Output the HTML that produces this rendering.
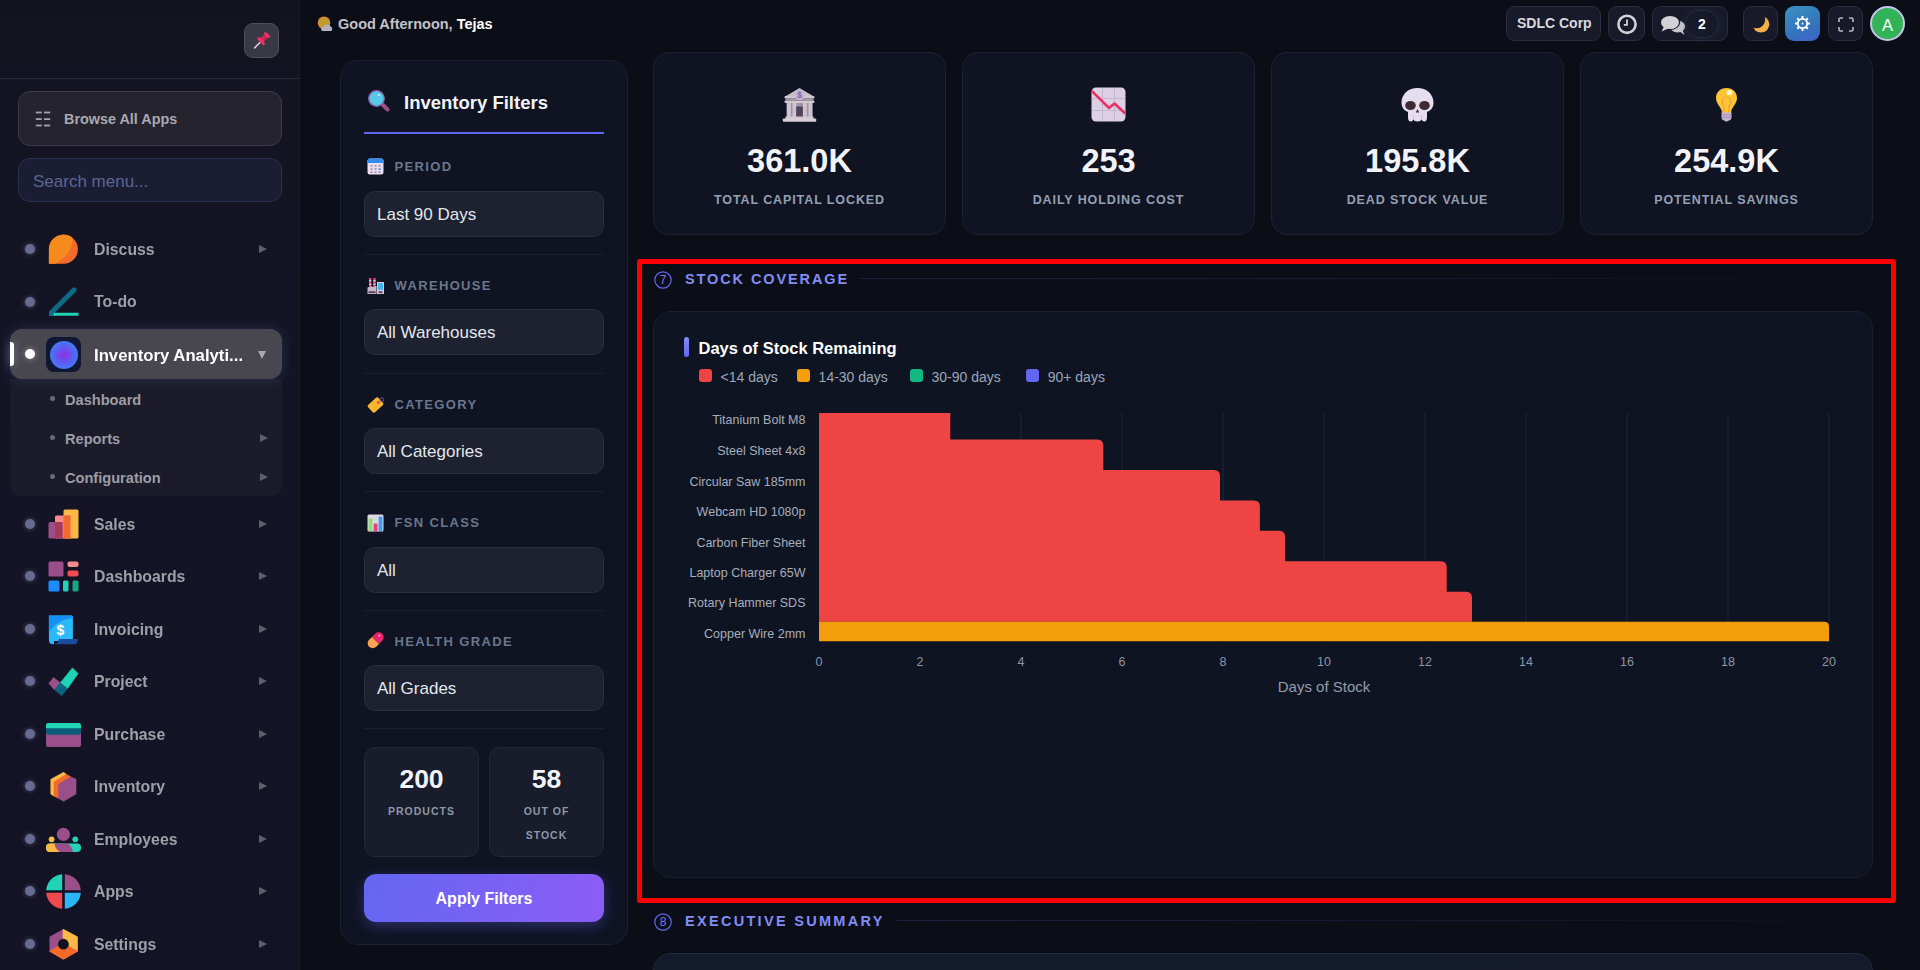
<!DOCTYPE html>
<html><head><meta charset="utf-8"><style>
*{box-sizing:border-box;margin:0;padding:0}
html,body{width:1920px;height:970px;overflow:hidden;background:#0c0e17;font-family:"Liberation Sans",sans-serif}
.abs{position:absolute}
#sidebar{position:absolute;left:0;top:0;width:300px;height:970px;background:linear-gradient(180deg,#131320 0%,#151426 50%,#141325 100%);border-right:1px solid #1a1a28}
.pin{left:244px;top:23px;width:35px;height:35px;border-radius:9px;background:#393943;border:1px solid #50505a}
.hr{left:0;top:78px;width:299px;height:1px;background:#2a2a36}
.browse{left:18px;top:91px;width:264px;height:55px;border-radius:12px;background:#24232e;border:1px solid #3b3a46}
.browse span{position:absolute;left:45px;top:18.5px;font-size:14.4px;font-weight:700;color:#a9a9b1;white-space:nowrap}
.search{left:18px;top:158px;width:264px;height:44px;border-radius:12px;background:#1b1d33;border:1px solid #2a2e52}
.search span{position:absolute;left:14px;top:12.5px;font-size:17px;color:#5b6592;white-space:nowrap}
.dot{position:absolute;left:24.5px;width:10px;height:10px;border-radius:50%;background:#676b90;box-shadow:0 0 5px rgba(190,190,240,.35)}
.mtx{position:absolute;left:94px;font-size:17px;font-weight:700;color:#9f9fa8;white-space:nowrap;transform:scaleX(.93);transform-origin:0 0}
.ar{position:absolute;left:258.5px;width:0;height:0;border-top:4px solid transparent;border-bottom:4px solid transparent;border-left:8px solid #5f5f6c}
.sub{position:absolute;left:65px;font-size:14.6px;font-weight:700;color:#9d9da6;white-space:nowrap}
.sdot{position:absolute;left:50px;width:5px;height:5px;border-radius:50%;background:#6a6a76}
.subbox{left:10px;top:329px;width:272px;height:167px;border-radius:12px;background:#1b1a29}
.active{left:10px;top:329px;width:272px;height:50px;border-radius:12px;background:#48474f;box-shadow:0 0 14px rgba(90,150,220,.22)}

.tb{position:absolute;top:6px;height:35px;border-radius:9px;background:#181a29;border:1px solid #2a2d3e}
.greet{left:338px;top:16px;font-size:14.5px;font-weight:700;color:#c2c2c9;white-space:nowrap}
.greet b{color:#fff}

#filters{left:340px;top:60px;width:288px;height:885px;border-radius:18px;background:#0f1322;border:1px solid #1c2132}
.ft{left:404px;top:92px;font-size:18.5px;font-weight:700;color:#f1f3f8;white-space:nowrap}
.fline{left:364px;top:132px;width:240px;height:2px;background:#6366f1}
.flab{position:absolute;left:394.5px;font-size:13px;font-weight:700;letter-spacing:1.35px;color:#6b778d;white-space:nowrap}
.fsel{position:absolute;left:364px;width:240px;height:46px;border-radius:11px;background:#1d2130;border:1px solid #2a2f40}
.fsel span{position:absolute;left:12px;top:13px;font-size:17px;color:#e4e7ee;white-space:nowrap}
.fdiv{position:absolute;left:364px;width:240px;height:1px;background:#1a1f2e}
.stat{position:absolute;top:747px;width:115px;height:110px;border-radius:11px;background:#181c2b;border:1px solid #222739;text-align:center}
.stat .n{position:absolute;left:0;right:0;top:15.5px;font-size:26.5px;font-weight:700;color:#f1f3f8}
.stat .l{position:absolute;left:0;right:0;top:51px;font-size:10.5px;font-weight:700;letter-spacing:1px;color:#8e97a8;line-height:24px}
.apply{left:364px;top:874px;width:240px;height:48px;border-radius:12px;background:linear-gradient(100deg,#6467f2 0%,#8b5cf6 100%);box-shadow:0 4px 14px rgba(99,102,241,.35);text-align:center}
.apply span{position:absolute;left:0;right:0;top:16px;font-size:16px;font-weight:700;color:#fff}

.kpi{position:absolute;top:52px;width:293px;height:183px;border-radius:16px;background:#0f1322;border:1px solid #1c2233}
.kpi .em{position:absolute;left:128px;top:34px;width:35px;height:35px}
.kpi .v{position:absolute;left:0;right:0;top:90px;text-align:center;font-size:32.5px;font-weight:700;color:#f1f3f8;white-space:nowrap}
.kpi .l{position:absolute;left:0;right:0;top:140px;text-align:center;font-size:12.5px;font-weight:700;letter-spacing:0.9px;color:#94a0b4;white-space:nowrap}

.sech{position:absolute;left:685px;font-size:13.5px;font-weight:700;letter-spacing:2.8px;color:#818cf8;white-space:nowrap}
.secl{position:absolute;height:1px;background:linear-gradient(90deg,rgba(99,102,241,.2),rgba(99,102,241,.1) 60%,rgba(99,102,241,.02))}
.card{position:absolute;left:653px;width:1220px;border-radius:18px;background:#0f1422;border:1px solid #1b2030}
.red{left:637px;top:259px;width:1258.5px;height:643.5px;border:5.6px solid #ff0000;border-radius:3px}

</style></head><body>
<div id="sidebar">
<div class="abs pin"><svg width="35" height="35" viewBox="0 0 35 35" style="position:absolute;left:-1px;top:-1px"><line x1="10.5" y1="25" x2="16" y2="19.5" stroke="#d9d2dc" stroke-width="1.6" stroke-linecap="round"/><path d="M13.5,16.5 L19.5,22.5 L21,21 L20,18 L23.5,14.5 L25,15 L26.5,13.5 L21.5,8.5 L20,10 L20.5,11.5 L17,15 L14,14 Z" fill="#f0306a"/><path d="M17,15 L20.5,11.5 L23.5,14.5 L20,18 Z" fill="#c8264f"/></svg></div>
<div class="abs hr"></div>
<div class="abs browse"><svg class="abs" style="left:16px;top:19px" width="16" height="16" viewBox="0 0 16 16"><g fill="#a4a4ac"><rect x="0.8" y="0.6" width="6" height="1.8"/><rect x="9" y="0.6" width="6.2" height="1.8"/><rect x="0.8" y="7.2" width="6" height="1.8"/><rect x="9" y="7.2" width="6.2" height="1.8"/><rect x="0.8" y="13.6" width="6" height="1.8"/><rect x="9" y="13.6" width="6.2" height="1.8"/></g></svg><span>Browse All Apps</span></div>
<div class="abs search"><span>Search menu...</span></div>
<div class="dot" style="top:244.2px"></div>
<svg class="abs" style="left:46px;top:232px" width="35" height="35" viewBox="0 0 35 35"><path d="M2.9,31.8 V17.3 A14.5,14.5 0 1 1 17.5,31.8 Z" fill="#f26b2b"/><path d="M2.9,31.8 V17.3 A14.5,14.5 0 0 1 26.9,6.3 Q26,17 19.9,23.8 Q15,29 9.1,31.8 Z" fill="#f78a1d"/></svg>
<div class="mtx" style="top:240.0px">Discuss</div>
<div class="ar" style="top:245.2px"></div>
<div class="dot" style="top:296.5px"></div>
<svg class="abs" style="left:46px;top:284px" width="35" height="35" viewBox="0 0 35 35"><line x1="5.5" y1="28.5" x2="28" y2="6" stroke="#0f6a84" stroke-width="5.2" stroke-linecap="round"/><rect x="3" y="27" width="6" height="5" fill="#0f6a84"/><path d="M8,28.8 H32.5 V31.8 H7 Z" fill="#1fd2b2"/></svg>
<div class="mtx" style="top:292.3px">To-do</div>
<div class="dot" style="top:518.9px"></div>
<svg class="abs" style="left:46px;top:507px" width="35" height="35" viewBox="0 0 35 35"><rect x="17.5" y="2.5" width="15" height="29" rx="1.5" fill="#fbb945"/><path d="M9,10 Q9,8.5 10.5,8.5 H24.5 V31.5 H9 Z" fill="#f68b8b"/><rect x="17.5" y="8.5" width="7" height="23" fill="#f26b2b"/><path d="M2.5,16.5 Q2.5,15 4,15 H16.5 V31.5 H3.5 Q2.5,31.5 2.5,30.5 Z" fill="#9b4f8a"/><rect x="9" y="15" width="7.5" height="16.5" fill="#a83a58"/></svg>
<div class="mtx" style="top:514.7px">Sales</div>
<div class="ar" style="top:519.9px"></div>
<div class="dot" style="top:571.2px"></div>
<svg class="abs" style="left:46px;top:558.5px" width="35" height="35" viewBox="0 0 35 35"><rect x="2.5" y="2.5" width="15" height="15" rx="1.5" fill="#9b4f8a"/><rect x="21.5" y="2.5" width="11" height="5.5" rx="2" fill="#f68b8b"/><rect x="21.5" y="11.5" width="11" height="6" rx="2" fill="#f04a50"/><rect x="2.5" y="21.5" width="11" height="11" rx="1.5" fill="#1a8cff"/><rect x="17" y="21.5" width="5.5" height="11" rx="1.5" fill="#22d3b8"/><rect x="26.5" y="21.5" width="6" height="11" rx="1.5" fill="#13a983"/></svg>
<div class="mtx" style="top:567.0px">Dashboards</div>
<div class="ar" style="top:572.2px"></div>
<div class="dot" style="top:623.7px"></div>
<svg class="abs" style="left:46px;top:612.5px" width="35" height="35" viewBox="0 0 35 35"><path d="M2.9,2.5 H25.4 Q26.9,2.5 26.9,4 V28 H8 V31.3 H7.5 Q2.9,31.3 2.9,26.7 Z" fill="#2cb9f7"/><path d="M2.9,2.5 H25.4 Q26.9,2.5 26.9,4 V5 Q13,6.5 4.2,17 L2.9,18.5 Z" fill="#1590f5"/><path d="M7.5,31.3 Q12,31.3 13,26 H32 L31.5,28.5 Q30.8,31.3 28.5,31.3 Z" fill="#1b4aa0"/><text x="14.5" y="21.8" font-family="Liberation Sans" font-weight="700" font-size="14" fill="#fff" text-anchor="middle">$</text></svg>
<div class="mtx" style="top:619.5px">Invoicing</div>
<div class="ar" style="top:624.7px"></div>
<div class="dot" style="top:676.4px"></div>
<svg class="abs" style="left:46px;top:664.5px" width="35" height="35" viewBox="0 0 35 35"><path d="M2.9,18.5 L7.5,12.5 L14.3,17.9 L8.5,24.7 Z" fill="#9b4f8a" stroke="#9b4f8a" stroke-width="0.8" stroke-linejoin="round"/><path d="M14.3,17.9 L26.5,2.9 L32,8.6 L21.5,23.5 Z" fill="#1fd2b2" stroke="#1fd2b2" stroke-width="0.8" stroke-linejoin="round"/><path d="M14.3,17.9 L21.5,23.5 L15.7,30.7 L8.5,24.7 Z" fill="#0d6280" stroke="#0d6280" stroke-width="0.5" stroke-linejoin="round"/></svg>
<div class="mtx" style="top:672.2px">Project</div>
<div class="ar" style="top:677.4px"></div>
<div class="dot" style="top:728.7px"></div>
<svg class="abs" style="left:46px;top:717.5px" width="35" height="35" viewBox="0 0 35 35"><rect x="0" y="5" width="35" height="24" rx="2.5" fill="#9b4f8a"/><path d="M0,7.5 Q0,5 2.5,5 H32.5 Q35,5 35,7.5 V14.5 Q35,16.8 32.5,16.8 H2.5 Q0,16.8 0,14.5 Z" fill="#0d5a78"/><path d="M0,7.5 Q0,5 2.5,5 H32.5 Q35,5 35,7.5 V10.3 H0 Z" fill="#22d3b8"/></svg>
<div class="mtx" style="top:724.5px">Purchase</div>
<div class="ar" style="top:729.7px"></div>
<div class="dot" style="top:781.2px"></div>
<svg class="abs" style="left:46px;top:770.5px" width="35" height="35" viewBox="0 0 35 35"><path d="M4.8,8.3 L17.6,1.3 L20.5,3.5 L8.1,11 V25.2 L4.8,23.1 Z" fill="#fbb945" stroke="#fbb945" stroke-width="0.6" stroke-linejoin="round"/><path d="M8.1,11 L20.5,3.5 L25,6 L12.8,13.2 V27.5 L8.1,25.2 Z" fill="#f26b2b" stroke="#f26b2b" stroke-width="0.6" stroke-linejoin="round"/><path d="M12.8,13.2 L25,6 L30,8.3 V23.1 L17.6,30.3 L12.8,27.5 Z" fill="#9b4f8a" stroke="#9b4f8a" stroke-width="0.6" stroke-linejoin="round"/></svg>
<div class="mtx" style="top:777.0px">Inventory</div>
<div class="ar" style="top:782.2px"></div>
<div class="dot" style="top:833.9px"></div>
<svg class="abs" style="left:46px;top:822.5px" width="35" height="35" viewBox="0 0 35 35"><circle cx="17.4" cy="11.3" r="6.6" fill="#9b4f8a"/><circle cx="5.6" cy="16.3" r="2.9" fill="#fbb945"/><circle cx="29.3" cy="16.3" r="2.9" fill="#22d3b8"/><rect x="0" y="20.4" width="35" height="8.6" rx="4" fill="#22d3b8"/><path d="M4,20.4 H10 Q10.5,26 15,29 H4 Q0,29 0,25 V24.4 Q0,20.4 4,20.4 Z" fill="#fbb945"/><path d="M8.5,20.4 H20 Q25.5,21 27,29 H14 Q9,26 8.5,20.4 Z" fill="#9b4f8a"/></svg>
<div class="mtx" style="top:829.7px">Employees</div>
<div class="ar" style="top:834.9px"></div>
<div class="dot" style="top:886.2px"></div>
<svg class="abs" style="left:46px;top:873.5px" width="35" height="35" viewBox="0 0 35 35"><path d="M16.2,0.2 A17.3,17.3 0 0 0 0.2,16.2 H16.2 Z" fill="#22d3b8"/><path d="M18.8,0.2 A17.3,17.3 0 0 1 34.8,16.2 H18.8 Z" fill="#9b4f8a"/><path d="M0.2,18.8 A17.3,17.3 0 0 0 16.2,34.8 V18.8 Z" fill="#f04a50"/><path d="M34.8,18.8 A17.3,17.3 0 0 1 18.8,34.8 V18.8 Z" fill="#2bb5f5"/></svg>
<div class="mtx" style="top:882.0px">Apps</div>
<div class="ar" style="top:887.2px"></div>
<div class="dot" style="top:939.0px"></div>
<svg class="abs" style="left:46px;top:927px" width="35" height="35" viewBox="0 0 35 35"><path d="M17.4,2.8 L31,10.2 V24.2 L17.4,31.8 L4.2,24.2 V10.2 Z" fill="#9b4f8a" stroke="#9b4f8a" stroke-width="1.4" stroke-linejoin="round"/><path d="M17.4,2.8 L31,10.2 V24.2 L17.4,17.2 Z" fill="#fbb945" stroke="#fbb945" stroke-width="1.4" stroke-linejoin="round"/><path d="M4.2,24.2 L17.4,31.8 L31,24.2 L17.4,17.2 Z" fill="#f26b2b" stroke="#f26b2b" stroke-width="1.4" stroke-linejoin="round"/><circle cx="17.4" cy="17.2" r="5.4" fill="#13121f"/></svg>
<div class="mtx" style="top:934.8px">Settings</div>
<div class="ar" style="top:940.0px"></div>
<div class="abs" style="left:10px;top:379px;width:272px;height:117px;border-radius:0 0 12px 12px;background:#1c1b2a"></div>
<div class="abs active"></div>
<div class="abs" style="left:10px;top:342px;width:4px;height:24px;border-radius:0 3px 3px 0;background:#fff;box-shadow:0 0 8px rgba(170,200,255,.5)"></div>
<div class="dot" style="top:349px;background:#fff;box-shadow:0 0 6px rgba(255,255,255,.4)"></div>
<div class="abs" style="left:46px;top:337px;width:35px;height:35px;border-radius:8px;background:#0f1733"></div>
<div class="abs" style="left:49.5px;top:340.5px;width:28px;height:28px;border-radius:50%;background:radial-gradient(circle at 50% 50%,#9330e2 0%,#6a50ee 30%,#4a72f3 62%,#3f80f4 100%)"></div>
<div class="mtx" style="top:345.5px;color:#fff;font-size:17px;transform:scaleX(.984)">Inventory Analyti...</div>
<div class="abs" style="left:258px;top:350.5px;width:0;height:0;border-left:4px solid transparent;border-right:4px solid transparent;border-top:8px solid #a9a9b3"></div>
<div class="sdot" style="top:396.4px"></div>
<div class="sub" style="top:392.3px">Dashboard</div>
<div class="sdot" style="top:435.4px"></div>
<div class="sub" style="top:431.3px">Reports</div>
<div class="ar" style="left:259.5px;top:433.9px"></div>
<div class="sdot" style="top:474.4px"></div>
<div class="sub" style="top:470.3px">Configuration</div>
<div class="ar" style="left:259.5px;top:472.9px"></div>
</div>
<svg class="abs" style="left:317px;top:16px" width="16" height="16" viewBox="0 0 16 16"><circle cx="7" cy="6.8" r="6.3" fill="#e3862c"/><circle cx="7" cy="6.8" r="5.3" fill="#bf9a2e"/><path d="M6,15 Q4,15 4,13 Q4,11 6,10.8 Q7,8.5 10,8.5 Q13,8.6 14,10.8 Q15.3,11.5 15.3,13 Q15.2,15 13.5,15 Z" fill="#b2b1bb"/><rect x="5.5" y="14" width="8.5" height="1" fill="#bdb6d6"/></svg>
<div class="abs greet">Good Afternoon, <b>Tejas</b></div>
<div class="tb" style="left:1506px;width:95px"><span class="abs" style="left:10px;top:8px;font-size:14px;font-weight:700;color:#d9d9de;white-space:nowrap">SDLC Corp</span></div>
<div class="tb" style="left:1608px;width:37px"><svg class="abs" style="left:7px;top:6px" width="22" height="22" viewBox="0 0 22 22"><circle cx="11" cy="11.3" r="8.6" fill="none" stroke="#d2d2d6" stroke-width="2.6"/><path d="M11,6.5 V11.8 H7.8" fill="none" stroke="#d2d2d6" stroke-width="1.8"/></svg></div>
<div class="tb" style="left:1652px;width:76px"><svg class="abs" style="left:6px;top:6px" width="28" height="24" viewBox="0 0 28 24"><ellipse cx="18.5" cy="13.5" rx="7.5" ry="6" fill="#c4c4c9"/><path d="M20,18 L25.5,22 L23.5,17 Z" fill="#c4c4c9"/><ellipse cx="11" cy="9.5" rx="10.2" ry="7.5" fill="#181a29"/><ellipse cx="11" cy="9.5" rx="9" ry="6.6" fill="#d2d2d6"/><path d="M5,13.5 L2.5,18.5 L9.5,15.5 Z" fill="#d2d2d6"/></svg><div class="abs" style="left:32px;top:3px;width:34px;height:28px;border-radius:14px;background:#161927;border:1px solid #262a3a;box-shadow:0 0 10px rgba(80,120,200,.12)"></div><span class="abs" style="left:45px;top:9px;font-size:14px;font-weight:700;color:#fff">2</span></div>
<div class="tb" style="left:1743px;width:35px"><svg class="abs" style="left:6px;top:7px" width="22" height="22" viewBox="0 0 22 22"><defs><mask id="mm"><rect width="22" height="22" fill="#fff"/><circle cx="6.6" cy="5.6" r="8.6" fill="#000"/></mask></defs><circle cx="11" cy="10.3" r="8.3" fill="#f6b04a" mask="url(#mm)"/></svg></div>
<div class="tb" style="left:1785px;width:35px;background:linear-gradient(155deg,#3b93c0 0%,#3576bd 55%,#3f62c7 100%);border:0"><svg class="abs" style="left:10px;top:10px" width="15" height="15" viewBox="0 0 15 15"><g fill="#fff"><circle cx="7.5" cy="7.5" r="5.6"/><rect x="6.5" y="0" width="2" height="3"/><rect x="6.5" y="12" width="2" height="3"/><rect x="0" y="6.5" width="3" height="2"/><rect x="12" y="6.5" width="3" height="2"/><rect x="6.5" y="0" width="2" height="3" transform="rotate(45 7.5 7.5)"/><rect x="6.5" y="12" width="2" height="3" transform="rotate(45 7.5 7.5)"/><rect x="0" y="6.5" width="3" height="2" transform="rotate(45 7.5 7.5)"/><rect x="12" y="6.5" width="3" height="2" transform="rotate(45 7.5 7.5)"/></g><circle cx="7.5" cy="7.5" r="3.8" fill="#3576bd"/><circle cx="7.5" cy="7.5" r="1" fill="#fff"/></svg></div>
<div class="tb" style="left:1828px;width:35px"><svg class="abs" style="left:9px;top:10px" width="16" height="15" viewBox="0 0 16 15"><path d="M1,5 V2.5 Q1,1 2.5,1 H5 M11,1 H13.5 Q15,1 15,2.5 V5 M15,10 V12.5 Q15,14 13.5,14 H11 M5,14 H2.5 Q1,14 1,12.5 V10" fill="none" stroke="#b9b9c4" stroke-width="1.6"/></svg></div>
<div class="abs" style="left:1870px;top:6px;width:35px;height:35px;border-radius:50%;background:#33b357;border:2px solid #c9c3ee"><span class="abs" style="left:0;right:0;top:7.5px;text-align:center;font-size:16.5px;color:#fff">A</span></div>
<div id="filters" class="abs"></div>
<svg class="abs" style="left:367px;top:89px" width="24" height="24" viewBox="0 0 24 24"><line x1="14" y1="14" x2="20.5" y2="20.5" stroke="#9b4f8a" stroke-width="4" stroke-linecap="round"/><circle cx="9.5" cy="9.5" r="7.8" fill="#58c8e8" stroke="#8e5aa8" stroke-width="1.3"/><ellipse cx="12" cy="6" rx="1.3" ry="0.9" fill="#c9ecf5"/></svg>
<div class="abs ft">Inventory Filters</div>
<div class="abs fline"></div>
<svg class="abs" style="left:367px;top:158.0px" width="17" height="18" viewBox="0 0 17 18"><rect x="0.5" y="0.5" width="16" height="16" rx="2.5" fill="#eadff0"/><path d="M0.5,5 V3 Q0.5,0.5 3,0.5 H14 Q16.5,0.5 16.5,3 V5 Z" fill="#2f8cf2"/><g fill="#9a90a4"><rect x="3.5" y="7" width="2" height="1.6"/><rect x="7.5" y="7" width="2" height="1.6"/><rect x="11.5" y="7" width="2" height="1.6"/><rect x="3.5" y="10.2" width="2" height="1.6"/><rect x="7.5" y="10.2" width="2" height="1.6"/><rect x="3.5" y="13.4" width="2" height="1.6"/><rect x="7.5" y="13.4" width="2" height="1.6"/><rect x="11.5" y="13.4" width="2" height="1.6"/></g><rect x="11.5" y="10.2" width="2.2" height="1.8" rx="0.8" fill="#2f8cf2"/></svg>
<div class="flab" style="top:159.3px">PERIOD</div>
<div class="fsel" style="top:190.8px"><span>Last 90 Days</span></div>
<div class="fdiv" style="top:254.0px"></div>
<svg class="abs" style="left:367px;top:276.6px" width="17" height="18" viewBox="0 0 17 18"><rect x="2" y="1" width="2.3" height="11" fill="#e8457a"/><rect x="6.3" y="1" width="2.3" height="11" fill="#e8457a"/><rect x="2" y="3" width="2.3" height="1.5" fill="#c8c8cc"/><rect x="6.3" y="3" width="2.3" height="1.5" fill="#c8c8cc"/><rect x="2" y="6.5" width="2.3" height="1.5" fill="#c8c8cc"/><rect x="6.3" y="6.5" width="2.3" height="1.5" fill="#c8c8cc"/><path d="M0.5,17 V10.5 L5,9 V10 L9.5,9 V17 Z" fill="#c5b9ca"/><rect x="10" y="5" width="7" height="12" fill="#d8c9d8"/><rect x="11" y="6.2" width="5" height="6.5" fill="#3fb4ee"/><rect x="1.5" y="14.3" width="7" height="1.8" fill="#55406a"/><rect x="11.5" y="14.3" width="4" height="1.8" fill="#55406a"/></svg>
<div class="flab" style="top:277.9px">WAREHOUSE</div>
<div class="fsel" style="top:309.4px"><span>All Warehouses</span></div>
<div class="fdiv" style="top:372.6px"></div>
<svg class="abs" style="left:367px;top:395.2px" width="17" height="18" viewBox="0 0 17 18"><g transform="rotate(-42 8.5 10)"><rect x="1.5" y="5" width="14" height="10" rx="1.8" fill="#fbb630"/><circle cx="12.5" cy="10" r="1.6" fill="#ea5a3a"/></g><circle cx="14.8" cy="4.8" r="2" fill="none" stroke="#7e66a8" stroke-width="0.8"/></svg>
<div class="flab" style="top:396.5px">CATEGORY</div>
<div class="fsel" style="top:428.0px"><span>All Categories</span></div>
<div class="fdiv" style="top:491.2px"></div>
<svg class="abs" style="left:367px;top:513.8px" width="17" height="18" viewBox="0 0 17 18"><rect x="0.5" y="0.5" width="16" height="17" rx="1.5" fill="#dcd5e2"/><rect x="1.6" y="4.5" width="3.8" height="12.8" rx="1" fill="#8ee06a"/><rect x="6.7" y="9.5" width="3.8" height="7.8" rx="1" fill="#ee3d7e"/><rect x="11.6" y="2.5" width="3.8" height="14.8" rx="1" fill="#3a9ff0"/></svg>
<div class="flab" style="top:515.1px">FSN CLASS</div>
<div class="fsel" style="top:546.6px"><span>All</span></div>
<div class="fdiv" style="top:609.8px"></div>
<svg class="abs" style="left:367px;top:632.4px" width="17" height="18" viewBox="0 0 17 18"><g transform="rotate(-45 8.5 8.5)"><path d="M8.5,3.5 H13 A5,5 0 0 1 13,13.5 H8.5 Z" fill="#e9246a"/><path d="M8.5,3.5 H4.5 A5,5 0 0 0 4.5,13.5 H8.5 Z" fill="#f5a252"/></g><circle cx="12.4" cy="3.8" r="1" fill="#ffc6d8"/></svg>
<div class="flab" style="top:633.7px">HEALTH GRADE</div>
<div class="fsel" style="top:665.2px"><span>All Grades</span></div>
<div class="fdiv" style="top:728.4px"></div>
<div class="stat" style="left:364px"><div class="n">200</div><div class="l">PRODUCTS</div></div>
<div class="stat" style="left:489px"><div class="n">58</div><div class="l">OUT OF<br>STOCK</div></div>
<div class="abs apply"><span>Apply Filters</span></div>
<div class="kpi" style="left:653px"><svg class="em" viewBox="0 0 35 35"><path d="M17.5,1.5 L31,9.5 H4 Z" fill="#c9bfcc" stroke="#c9bfcc" stroke-width="1" stroke-linejoin="round"/><rect x="2.5" y="9" width="30" height="2.6" rx="1" fill="#d2c8d4"/><rect x="3.5" y="11.5" width="28" height="2" fill="#a99fae"/><rect x="2.5" y="13.5" width="30" height="2.5" rx="1" fill="#d2c8d4"/><circle cx="17.5" cy="8" r="5" fill="#c3b9c7"/><text x="17.5" y="11.2" font-family="Liberation Sans" font-weight="700" font-size="8.5" fill="#8a56c2" text-anchor="middle">$</text><rect x="4.5" y="16" width="26" height="14" fill="#9e94a3"/><g fill="#cfc5d2"><rect x="5" y="16" width="3.8" height="14"/><rect x="10.5" y="16" width="3.8" height="14"/><rect x="21" y="16" width="3.8" height="14"/><rect x="26.5" y="16" width="3.8" height="14"/></g><rect x="14.2" y="19.5" width="6.6" height="10.5" fill="#4f435e"/><rect x="3.5" y="29.5" width="28" height="2.5" fill="#d2c8d4"/><rect x="0.8" y="31.5" width="33.4" height="3.2" rx="0.8" fill="#d8ced9"/></svg><div class="v">361.0K</div><div class="l">TOTAL CAPITAL LOCKED</div></div>
<div class="kpi" style="left:962px"><svg class="em" viewBox="0 0 35 35"><rect x="0.5" y="0.5" width="34" height="34" rx="4.5" fill="#ddd0e6"/><g stroke="#c4b8cc" stroke-width="1"><line x1="11.5" y1="1" x2="11.5" y2="34"/><line x1="23.5" y1="1" x2="23.5" y2="34"/><line x1="1" y1="11.5" x2="34" y2="11.5"/><line x1="1" y1="23.5" x2="34" y2="23.5"/></g><path d="M0.8,4 L18,21 L23.5,16.5 L34.2,26.5" fill="none" stroke="#ee3064" stroke-width="2.6" stroke-linejoin="round"/></svg><div class="v">253</div><div class="l">DAILY HOLDING COST</div></div>
<div class="kpi" style="left:1271px"><svg class="em" viewBox="0 0 35 35"><path d="M17.5,1 C26.5,1 33.5,7 33.5,15.5 C33.5,20.5 31,23.5 27,25 V29.5 Q27,34.5 24.5,34.5 Q22,34.5 21.5,32 Q21,34.5 17.5,34.5 Q14,34.5 13.5,32 Q13,34.5 10.5,34.5 Q8,34.5 8,29.5 V25 C4,23.5 1.5,20.5 1.5,15.5 C1.5,7 8.5,1 17.5,1 Z" fill="#e6def0"/><ellipse cx="10.5" cy="18.5" rx="5.3" ry="4.6" fill="#3f2a33"/><ellipse cx="24.5" cy="18.5" rx="5.3" ry="4.6" fill="#3f2a33"/><path d="M17.5,22 L19.2,25.5 H15.8 Z" fill="#3f2a33"/><g stroke="#c7b8d8" stroke-width="0.8"><line x1="13.5" y1="28" x2="13.5" y2="33"/><line x1="21.5" y1="28" x2="21.5" y2="33"/></g></svg><div class="v">195.8K</div><div class="l">DEAD STOCK VALUE</div></div>
<div class="kpi" style="left:1580px"><svg class="em" viewBox="0 0 35 35"><path d="M17.5,1 C24,1 28,5.5 28,11 C28,16 24.5,18.5 22.5,23 L22,26 H13 L12.5,23 C10.5,18.5 7,16 7,11 C7,5.5 11,1 17.5,1 Z" fill="#fcc534"/><ellipse cx="20.5" cy="5.5" rx="3" ry="2.6" fill="#fff6c8"/><path d="M15,26 V19 Q12.5,16 13.5,12.5 Q15,10 17.5,10 Q20,10 21.5,12.5 Q22.5,16 20,19 V26" fill="none" stroke="#f4a03c" stroke-width="1.2"/><path d="M12.5,25.5 H22.5 V31 Q22,33 20,33.5 L17.5,34.8 L15,33.5 Q13,33 12.5,31 Z" fill="#c4b4d4"/><g stroke="#a08cb8" stroke-width="0.9"><line x1="12.8" y1="28" x2="22.2" y2="28"/><line x1="12.8" y1="30.5" x2="22.2" y2="30.5"/></g></svg><div class="v">254.9K</div><div class="l">POTENTIAL SAVINGS</div></div>
<svg class="abs" style="left:653.5px;top:270.5px" width="18" height="18" viewBox="0 0 18 18"><circle cx="9" cy="9" r="8.2" fill="none" stroke="#6366f1" stroke-width="1.2"/><text x="9" y="13.3" font-family="Liberation Sans" font-size="12" fill="#7479f3" text-anchor="middle">7</text></svg>
<div class="sech" style="top:270.5px;font-size:14.5px;letter-spacing:1.9px">STOCK COVERAGE</div>
<div class="secl" style="left:861px;top:278px;width:1000px"></div>
<div class="card" style="top:311px;height:567px"></div>
<div class="abs" style="left:684px;top:337px;width:5px;height:20px;border-radius:3px;background:linear-gradient(180deg,#818cf8,#6366f1)"></div>
<div class="abs" style="left:698.5px;top:339px;font-size:16.5px;font-weight:700;color:#fff;white-space:nowrap">Days of Stock Remaining</div>
<div class="abs" style="left:698.5px;top:369px;width:13px;height:13px;border-radius:3px;background:#ef4444"></div>
<div class="abs" style="left:720.5px;top:368.5px;font-size:14px;color:#9ca7bb;white-space:nowrap">&lt;14 days</div>
<div class="abs" style="left:796.6px;top:369px;width:13px;height:13px;border-radius:3px;background:#f59e0b"></div>
<div class="abs" style="left:818.6px;top:368.5px;font-size:14px;color:#9ca7bb;white-space:nowrap">14-30 days</div>
<div class="abs" style="left:909.5px;top:369px;width:13px;height:13px;border-radius:3px;background:#10b981"></div>
<div class="abs" style="left:931.5px;top:368.5px;font-size:14px;color:#9ca7bb;white-space:nowrap">30-90 days</div>
<div class="abs" style="left:1025.7px;top:369px;width:13px;height:13px;border-radius:3px;background:#6366f1"></div>
<div class="abs" style="left:1047.7px;top:368.5px;font-size:14px;color:#9ca7bb;white-space:nowrap">90+ days</div>
<svg class="abs" style="left:0;top:0" width="1920" height="970" viewBox="0 0 1920 970">
<line x1="920.0" y1="413" x2="920.0" y2="642" stroke="#1f2535" stroke-width="1"/>
<line x1="1021.0" y1="413" x2="1021.0" y2="642" stroke="#1f2535" stroke-width="1"/>
<line x1="1122.0" y1="413" x2="1122.0" y2="642" stroke="#1f2535" stroke-width="1"/>
<line x1="1223.0" y1="413" x2="1223.0" y2="642" stroke="#1f2535" stroke-width="1"/>
<line x1="1324.0" y1="413" x2="1324.0" y2="642" stroke="#1f2535" stroke-width="1"/>
<line x1="1425.0" y1="413" x2="1425.0" y2="642" stroke="#1f2535" stroke-width="1"/>
<line x1="1526.0" y1="413" x2="1526.0" y2="642" stroke="#1f2535" stroke-width="1"/>
<line x1="1627.0" y1="413" x2="1627.0" y2="642" stroke="#1f2535" stroke-width="1"/>
<line x1="1728.0" y1="413" x2="1728.0" y2="642" stroke="#1f2535" stroke-width="1"/>
<line x1="1829.0" y1="413" x2="1829.0" y2="642" stroke="#1f2535" stroke-width="1"/>
<path d="M819.0,621.8 V413 H950.3 Q950.3,413 950.3,413.0 V439.6 H1097.3 Q1103.3,439.6 1103.3,445.6 V469.9 H1214.0 Q1220.0,469.9 1220.0,475.9 V500.5 H1253.9 Q1259.9,500.5 1259.9,506.5 V530.8 H1279.1 Q1285.1,530.8 1285.1,536.8 V561.2 H1440.7 Q1446.7,561.2 1446.7,567.2 V591.8 H1466.0 Q1472.0,591.8 1472.0,597.8 V621.8 Z" fill="#ef4444"/>
<path d="M819.0,621.8 H1824.0 Q1829.0,621.8 1829.0,626.8 V641.3 H819.0 Z" fill="#f59e0b"/>
<text x="805.5" y="424.5" font-family="Liberation Sans" font-size="13" fill="#a6aebd" text-anchor="end" transform="translate(805.5 0) scale(0.962 1) translate(-805.5 0)">Titanium Bolt M8</text>
<text x="805.5" y="455.5" font-family="Liberation Sans" font-size="13" fill="#a6aebd" text-anchor="end" transform="translate(805.5 0) scale(0.962 1) translate(-805.5 0)">Steel Sheet 4x8</text>
<text x="805.5" y="485.8" font-family="Liberation Sans" font-size="13" fill="#a6aebd" text-anchor="end" transform="translate(805.5 0) scale(0.962 1) translate(-805.5 0)">Circular Saw 185mm</text>
<text x="805.5" y="516.2" font-family="Liberation Sans" font-size="13" fill="#a6aebd" text-anchor="end" transform="translate(805.5 0) scale(0.962 1) translate(-805.5 0)">Webcam HD 1080p</text>
<text x="805.5" y="546.6" font-family="Liberation Sans" font-size="13" fill="#a6aebd" text-anchor="end" transform="translate(805.5 0) scale(0.962 1) translate(-805.5 0)">Carbon Fiber Sheet</text>
<text x="805.5" y="577.0" font-family="Liberation Sans" font-size="13" fill="#a6aebd" text-anchor="end" transform="translate(805.5 0) scale(0.962 1) translate(-805.5 0)">Laptop Charger 65W</text>
<text x="805.5" y="607.4" font-family="Liberation Sans" font-size="13" fill="#a6aebd" text-anchor="end" transform="translate(805.5 0) scale(0.962 1) translate(-805.5 0)">Rotary Hammer SDS</text>
<text x="805.5" y="637.7" font-family="Liberation Sans" font-size="13" fill="#a6aebd" text-anchor="end" transform="translate(805.5 0) scale(0.962 1) translate(-805.5 0)">Copper Wire 2mm</text>
<text x="819.0" y="666" font-family="Liberation Sans" font-size="12.5" fill="#8d96a8" text-anchor="middle">0</text>
<text x="920.0" y="666" font-family="Liberation Sans" font-size="12.5" fill="#8d96a8" text-anchor="middle">2</text>
<text x="1021.0" y="666" font-family="Liberation Sans" font-size="12.5" fill="#8d96a8" text-anchor="middle">4</text>
<text x="1122.0" y="666" font-family="Liberation Sans" font-size="12.5" fill="#8d96a8" text-anchor="middle">6</text>
<text x="1223.0" y="666" font-family="Liberation Sans" font-size="12.5" fill="#8d96a8" text-anchor="middle">8</text>
<text x="1324.0" y="666" font-family="Liberation Sans" font-size="12.5" fill="#8d96a8" text-anchor="middle">10</text>
<text x="1425.0" y="666" font-family="Liberation Sans" font-size="12.5" fill="#8d96a8" text-anchor="middle">12</text>
<text x="1526.0" y="666" font-family="Liberation Sans" font-size="12.5" fill="#8d96a8" text-anchor="middle">14</text>
<text x="1627.0" y="666" font-family="Liberation Sans" font-size="12.5" fill="#8d96a8" text-anchor="middle">16</text>
<text x="1728.0" y="666" font-family="Liberation Sans" font-size="12.5" fill="#8d96a8" text-anchor="middle">18</text>
<text x="1829.0" y="666" font-family="Liberation Sans" font-size="12.5" fill="#8d96a8" text-anchor="middle">20</text>
<text x="1324" y="692.3" font-family="Liberation Sans" font-size="15" fill="#939cad" text-anchor="middle">Days of Stock</text>
</svg>
<svg class="abs" style="left:653.5px;top:913px" width="18" height="18" viewBox="0 0 18 18"><circle cx="9" cy="9" r="8.2" fill="none" stroke="#6366f1" stroke-width="1.2"/><text x="9" y="13.3" font-family="Liberation Sans" font-size="12" fill="#7479f3" text-anchor="middle">8</text></svg>
<div class="sech" style="top:912.5px;font-size:14.5px;letter-spacing:2.3px">EXECUTIVE SUMMARY</div>
<div class="secl" style="left:897px;top:920px;width:965px"></div>
<div class="card" style="top:953px;height:60px;background:linear-gradient(90deg,#121a2c,#141a2b);border-color:#222a40"></div>
<div class="abs red"></div>
</body></html>
